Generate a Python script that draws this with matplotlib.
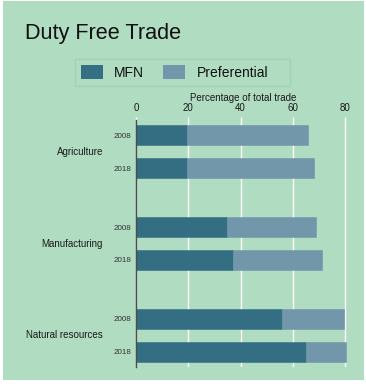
import matplotlib
matplotlib.use("Agg")
import matplotlib.pyplot as plt
from matplotlib.patches import Rectangle
import numpy as np

plt.rcParams['font.family'] = ['Liberation Sans', 'DejaVu Sans']

sectors = ["Agriculture", "Manufacturing", "Natural resources"]
years = ["2008", "2018"]
mfn = [19.4, 19.6, 34.8, 37.0, 55.7, 64.9]
preferential = [46.2, 48.3, 34.2, 34.1, 23.8, 15.4]
ticks = [0, 20, 40, 60, 80]

BG = '#b0dcc1'
C_MFN = '#336e83'
C_PREF = '#7296aa'

W, H = 366, 391
fig = plt.figure(figsize=(W / 100, H / 100), dpi=100, facecolor='white')

# background panel
bg = fig.add_axes([0, 0, 1, 1], zorder=-5)
bg.set_xlim(0, W)
bg.set_ylim(H, 0)
bg.axis('off')
bg.add_patch(Rectangle((3, 1), 361, 379, facecolor=BG, edgecolor='none'))
# legend frame
bg.add_patch(Rectangle((75, 59), 215, 27, facecolor=BG, edgecolor='#a3d2b5',
                       linewidth=1))

ax = fig.add_axes([136 / W, 1 - 366.7 / H, 214.4 / W, (366.7 - 120) / H])
ax.set_facecolor('none')

group_step = 2.79
pos = []
labels = []
for g in range(len(sectors)):
    for j, yr in enumerate(years):
        pos.append(g * group_step + j)
        labels.append(yr)
pos = np.array(pos)

ax.barh(pos, mfn, height=0.59, color=C_MFN, edgecolor=C_MFN, linewidth=0.4, zorder=3)
ax.barh(pos, preferential, left=mfn, height=0.59, color=C_PREF,
        edgecolor=C_PREF, linewidth=0.4, zorder=3)

ax.set_xlim(0, 82)
ax.set_ylim(pos[-1] + 0.45, -0.46)
ax.set_xticks(ticks)
ax.set_xticklabels([str(t) for t in ticks])
ax.xaxis.tick_top()
ax.xaxis.set_label_position('top')
ax.set_xlabel("Percentage of total trade", fontsize=7, labelpad=1.5, color='#1a1a1a')
ax.tick_params(axis='x', length=2, width=1, color='white', pad=2.7,
               labelsize=7, labelcolor='#1a1a1a')
ax.set_yticks(pos)
ax.set_yticklabels(labels)
ax.tick_params(axis='y', length=0, pad=3.6, labelsize=5.8, labelcolor='#333333')
ax.grid(axis='x', color='white', linewidth=1, zorder=1)
ax.set_axisbelow(True)
for s in ['top', 'right', 'bottom']:
    ax.spines[s].set_visible(False)
ax.spines['left'].set_color('#4d4d4d')
ax.spines['left'].set_linewidth(1)
ax.spines['left'].set_zorder(4)

for g, name in enumerate(sectors):
    yc = g * group_step + 0.5
    ax.text(-33 / 214.4, yc, name, transform=ax.get_yaxis_transform(),
            ha='right', va='center', fontsize=7, color='#1a1a1a')

fig.text(25 / W, 1 - 33 / H, "Duty Free Trade", fontsize=15.6,
         ha='left', va='center', color='#111111')

h1 = Rectangle((0, 0), 1, 1, facecolor=C_MFN)
h2 = Rectangle((0, 0), 1, 1, facecolor=C_PREF)
leg = fig.legend([h1, h2], ["MFN", "Preferential"], ncol=2,
                 loc='center left', bbox_to_anchor=(81 / W, 1 - 72.5 / H),
                 fontsize=10, frameon=False,
                 handlelength=1.6, handleheight=1.08, handletextpad=0.8,
                 columnspacing=1.35, borderpad=0, borderaxespad=0)
for t in leg.get_texts():
    t.set_color('#111111')

fig.savefig("out.png", dpi=100, facecolor='white')
